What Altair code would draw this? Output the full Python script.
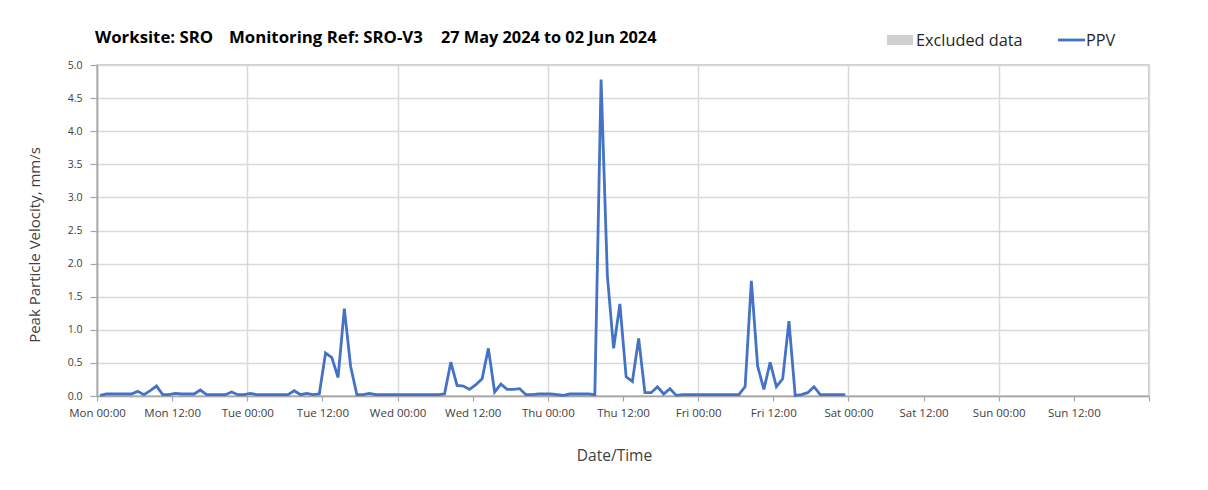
import altair as alt
import pandas as pd

# ---- chart text ----
title_parts = ["Worksite: SRO", "Monitoring Ref: SRO-V3", "27 May 2024 to 02 Jun 2024"]
legend_labels = ["Excluded data", "PPV"]
x_title = "Date/Time"
y_title = "Peak Particle Velocity, mm/s"

# ---- axis ticks ----
y_ticks = [0.0, 0.5, 1.0, 1.5, 2.0, 2.5, 3.0, 3.5, 4.0, 4.5, 5.0]
x_tick_times = [
    "2024-05-27T00:00", "2024-05-27T12:00", "2024-05-28T00:00", "2024-05-28T12:00",
    "2024-05-29T00:00", "2024-05-29T12:00", "2024-05-30T00:00", "2024-05-30T12:00",
    "2024-05-31T00:00", "2024-05-31T12:00", "2024-06-01T00:00", "2024-06-01T12:00",
    "2024-06-02T00:00", "2024-06-02T12:00", "2024-06-03T00:00",
]

# ---- data: hourly PPV (mm/s), first reading 27 May 00:30 ----
ppv = [
    0.01, 0.03, 0.03, 0.03, 0.03, 0.03, 0.07, 0.02, 0.08, 0.15, 0.02, 0.02,
    0.04, 0.03, 0.03, 0.03, 0.09, 0.02, 0.02, 0.02, 0.02, 0.06, 0.02, 0.02,
    0.04, 0.02, 0.02, 0.02, 0.02, 0.02, 0.02, 0.08, 0.02, 0.04, 0.02, 0.03,
    0.65, 0.58, 0.28, 1.32, 0.45, 0.02, 0.02, 0.04, 0.02, 0.02, 0.02, 0.02,
    0.02, 0.02, 0.02, 0.02, 0.02, 0.02, 0.02, 0.03, 0.51, 0.16, 0.15, 0.10,
    0.17, 0.26, 0.72, 0.06, 0.18, 0.10, 0.10, 0.11, 0.02, 0.02, 0.03, 0.03,
    0.03, 0.02, 0.01, 0.03, 0.03, 0.03, 0.03, 0.02, 4.78, 1.82, 0.72, 1.39,
    0.29, 0.22, 0.87, 0.05, 0.05, 0.14, 0.03, 0.11, 0.01, 0.02, 0.02, 0.02,
    0.02, 0.02, 0.02, 0.02, 0.02, 0.02, 0.02, 0.14, 1.74, 0.45, 0.10, 0.51,
    0.14, 0.26, 1.13, 0.01, 0.02, 0.05, 0.14, 0.02, 0.02, 0.02, 0.02, 0.02,
]
times = pd.date_range("2024-05-27 00:30", periods=len(ppv), freq="h")
df = pd.DataFrame({"time": times.strftime("%Y-%m-%dT%H:%M:%SZ"), "ppv": ppv})


def to_dt(s):
    t = pd.Timestamp(s)
    return alt.DateTime(year=t.year, month=t.month, date=t.day, hours=t.hour, utc=True)


x_values = [to_dt(s) for s in x_tick_times]
x_domain = [x_values[0], x_values[-1]]

W, H = 1052, 331
BLUE = "#4472c4"
GRID = "#d9d9d9"
AXIS = "#a6a6a6"
LABEL = "#404040"
FONT = "Open Sans"

x_enc = alt.X(
    "time:T",
    scale=alt.Scale(type="utc", domain=x_domain),
    axis=alt.Axis(
        values=x_values,
        labelExpr="datum.value >= utc(2024,5,3) ? '' : utcFormat(datum.value, '%a %H:%M')",
        labelFont=FONT, labelFontSize=11.5, labelColor=LABEL, labelPadding=6,
        labelOverlap=False, labelFlush=False,
        tickSize=5, tickColor=AXIS, tickWidth=1.2,
        domainColor=AXIS, domainWidth=1.5,
        grid=True, gridColor=GRID, gridWidth=1.5,
        gridOpacity={"condition": {"test": "utchours(datum.value) == 0", "value": 1}, "value": 0},
        title=x_title, titleFont=FONT, titleFontSize=15.5, titleFontWeight="normal",
        titleColor=LABEL, titleX=517, titleY=59, titleAlign="center", titleBaseline="middle",
    ),
)
y_enc = alt.Y(
    "ppv:Q",
    scale=alt.Scale(domain=[0, 5], nice=False),
    axis=alt.Axis(
        values=y_ticks, format=".1f",
        labelFont=FONT, labelFontSize=10.5, labelColor=LABEL, labelPadding=8,
        tickSize=7, tickColor=AXIS, tickWidth=1.2,
        domainColor=AXIS, domainWidth=1.5,
        grid=True, gridColor=GRID, gridWidth=1.5,
        title=y_title, titleFont=FONT, titleFontSize=15, titleFontWeight="normal",
        titleColor=LABEL, titleX=-63, titleY=H / 2 + 14, titleAngle=-90,
        titleAlign="center", titleBaseline="middle",
    ),
)

line = alt.Chart(df).mark_line(color=BLUE, strokeWidth=2.8).encode(x=x_enc, y=y_enc)

one = alt.Data(values=[{}])


def label(text, x, y, size, bold=False, font=FONT, color="black"):
    return alt.Chart(one).mark_text(
        align="left", baseline="alphabetic", font=font, fontSize=size,
        fontWeight="bold" if bold else "normal", color=color,
    ).encode(x=alt.value(x), y=alt.value(y), text=alt.value(text))


title_layers = [
    label(title_parts[0], -2, -22, 16.8, bold=True),
    label(title_parts[1], 132, -22, 16.8, bold=True),
    label(title_parts[2], 344, -22, 16.3, bold=True),
]

legend_rect = alt.Chart(one).mark_rect(color="#d0d0d0").encode(
    x=alt.value(790), x2=alt.value(816), y=alt.value(-30), y2=alt.value(-20)
)
legend_line = alt.Chart(one).mark_rule(color=BLUE, strokeWidth=2.8).encode(
    x=alt.value(961), x2=alt.value(988), y=alt.value(-25)
)
legend_texts = [
    label(legend_labels[0], 819, -19, 16.3, color="#262626"),
    label(legend_labels[1], 989, -19, 16.3, color="#262626"),
]

chart = alt.layer(line, *title_layers, legend_rect, legend_line, *legend_texts).properties(
    width=W, height=H,
    padding={"left": 89, "top": 57, "right": 50, "bottom": 85},
    autosize=alt.AutoSizeParams(type="none"),
    background="white",
).configure_view(stroke="#bfbfbf", strokeWidth=1.5)

chart.save("out.html", embed_options={"renderer": "svg", "actions": False})
